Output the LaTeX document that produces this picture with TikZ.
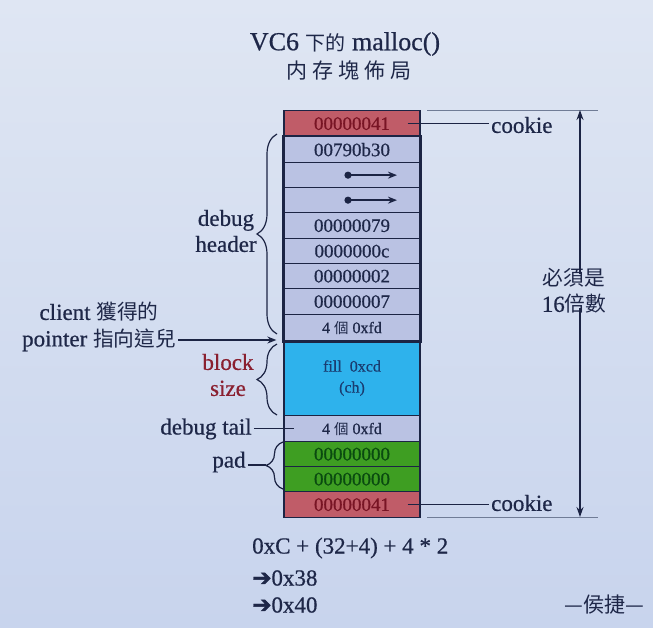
\documentclass[tikz,border=0pt]{standalone}
\usepackage{fontspec}
\setmainfont{Liberation Serif}[FakeBold=0.6]
\newfontfamily\cjkf{Noto Sans CJK TC}
\newfontfamily\cjks[Scale=0.9]{Noto Sans CJK TC}
\newfontfamily\symf{DejaVu Sans}[FakeBold=2]
\newcommand\zh[1]{{\cjks #1}}
\usetikzlibrary{decorations.pathreplacing,arrows.meta,calc}
\definecolor{bgtop}{RGB}{223,230,243}
\definecolor{bgbot}{RGB}{200,212,237}
\definecolor{navy}{RGB}{28,36,68}
\definecolor{ink}{RGB}{30,39,72}
\definecolor{cookiefill}{RGB}{192,92,104}
\definecolor{cookieink}{RGB}{120,20,36}
\definecolor{lav}{RGB}{186,194,227}
\definecolor{bluefill}{RGB}{46,178,236}
\definecolor{blueink}{RGB}{26,60,112}
\definecolor{greenfill}{RGB}{62,158,34}
\definecolor{greenink}{RGB}{10,74,16}
\definecolor{bsred}{RGB}{138,32,48}
\definecolor{dimgray}{RGB}{112,124,150}
\begin{document}
\begin{tikzpicture}[x=1pt,y=-1pt,
  cell/.style={draw=navy, line width=1.3pt, minimum width=136pt, inner sep=0pt,
    anchor=north, font=\fontsize{19}{22}\selectfont, text=ink},
  small/.style={font=\fontsize{16}{21}\selectfont},
  lab/.style={font=\fontsize{23}{26}\selectfont, text=ink, inner sep=2pt},
  leader/.style={draw=navy, line width=1.2pt},
  bracestyle/.style={draw=navy, line width=1.2pt, decorate},
  ptr/.style={draw=navy, line width=1.5pt, -{Stealth[length=9pt,width=7pt]}},
  dimline/.style={draw=dimgray, line width=0.9pt},
  dimarrow/.style={draw=navy, line width=1.3pt, -{Stealth[length=10pt,width=7pt]}}
]
\useasboundingbox (0,0) rectangle (653,627);
\shade[top color=bgtop, bottom color=bgbot] (0,0) rectangle (653,627);

% title
\node[text=ink] (t1) at (345,44) {\fontsize{26}{30}\selectfont VC6 {\fontsize{20}{22}\selectfont\cjkf 下的} malloc()};
\node[text=ink] (t2) at (349,71) {\fontsize{21}{24}\selectfont\cjkf\addfontfeature{LetterSpace=24}内存塊佈局};

% memory block
\node[cell, fill=cookiefill, text=cookieink, minimum height=26pt] (c1) at (352,110) {00000041};
\node[cell, fill=lav, minimum height=26pt] (h1) at (352,136) {00790b30};
\node[cell, fill=lav, minimum height=25pt] (h2) at (352,162) {};
\node[cell, fill=lav, minimum height=25pt] (h3) at (352,187) {};
\node[cell, fill=lav, minimum height=26pt] (h4) at (352,212) {00000079};
\node[cell, fill=lav, minimum height=25pt] (h5) at (352,238) {0000000c};
\node[cell, fill=lav, minimum height=25pt] (h6) at (352,263) {00000002};
\node[cell, fill=lav, minimum height=26pt] (h7) at (352,288) {00000007};
\node[cell, fill=lav, minimum height=26pt, small] (h8) at (352,314) {4 \zh{個} 0xfd};
\node[cell, fill=bluefill, text=blueink, minimum height=75pt, small, align=center] (blk) at (352,340) {fill\ \ 0xcd\\(ch)};
\node[cell, fill=lav, minimum height=26pt, small] (tl) at (352,415) {4 \zh{個} 0xfd};
\node[cell, fill=greenfill, text=greenink, minimum height=25pt] (p1) at (352,441) {00000000};
\node[cell, fill=greenfill, text=greenink, minimum height=25pt] (p2) at (352,466) {00000000};
\node[cell, fill=cookiefill, text=cookieink, minimum height=26pt] (c2) at (352,491) {00000041};
\draw[navy, line width=2.6pt] (h1.north west) rectangle (h8.south east);

% pointer arrows in rows
\fill[navy] ([xshift=-4pt]h2.center) circle (3.6pt);
\draw[ptr] ([xshift=-4pt]h2.center) -- ([xshift=45pt]h2.center);
\fill[navy] ([xshift=-4pt]h3.center) circle (3.6pt);
\draw[ptr] ([xshift=-4pt]h3.center) -- ([xshift=45pt]h3.center);

% cookies
\node[lab, anchor=west] (ck1) at (489,125) {cookie};
\node[lab, anchor=west] (ck2) at (489,503) {cookie};
\draw[leader] ([xshift=-13pt]c1.east) -- (c1.east -| ck1.west);
\draw[leader] ([xshift=-13pt]c2.east) -- (c2.east -| ck2.west);

% dimension
\coordinate (dtl) at (427,110); \coordinate (dtr) at (598,110);
\coordinate (dbl) at (427,517); \coordinate (dbr) at (598,517);
\coordinate (dt) at (580,110); \coordinate (db) at (580,517);
\draw[dimline] (dtl) -- (dtr);
\draw[dimline] (dbl) -- (dbr);
\node[lab, align=center, inner sep=0pt] (dim) at (574,291) {\zh{必須是}\\16\zh{倍數}};
\draw[dimarrow] ([yshift=-6pt]dim.north -| dt) -- (dt);
\draw[dimarrow] ([yshift=6pt]dim.south -| db) -- (db);

% left labels
\node[lab, align=center] (dh) at (226,231) {debug\\header};
\draw[bracestyle, decoration={brace, amplitude=20pt}] (277,334) -- (277,134);

\node[lab] (cp1) at (99,312) {client \zh{獲得的}};
\node[lab] (cp2) at (99,340) {pointer \zh{指向這兒}};
\coordinate (ptip) at ([xshift=-7pt]blk.north west);
\draw[ptr] (cp2.east |- ptip) -- (ptip);

\node[lab, text=bsred, align=center] (bs) at (228,375) {block\\size};
\draw[bracestyle, decoration={brace, amplitude=20pt}] (277,415) -- (277,344);

\node[lab] (dtail) at (206,429) {debug tail};
\draw[leader] (dtail.east |- tl.west) -- ([xshift=11pt]tl.west);

\node[lab] (pad) at (229,462) {pad};
\draw[bracestyle, decoration={brace, amplitude=17pt}] (283,489) -- (283,442);
\coordinate (padtip) at (266,465);
\draw[leader] (pad.east |- padtip) -- (padtip);

% formula
\node[lab, anchor=west] (f1) at (250,548) {0xC + (32+4) + 4 * 2};
\node[lab, anchor=west] (f2) at (250,578) {{\symf\fontsize{23}{24}\selectfont ➔}0x38};
\node[lab, anchor=west] (f3) at (250,605) {{\symf\fontsize{23}{24}\selectfont ➔}0x40};
\node[text=ink] (author) at (604,605) {\fontsize{21}{24}\selectfont\cjkf —侯捷—};
\end{tikzpicture}
\end{document}
